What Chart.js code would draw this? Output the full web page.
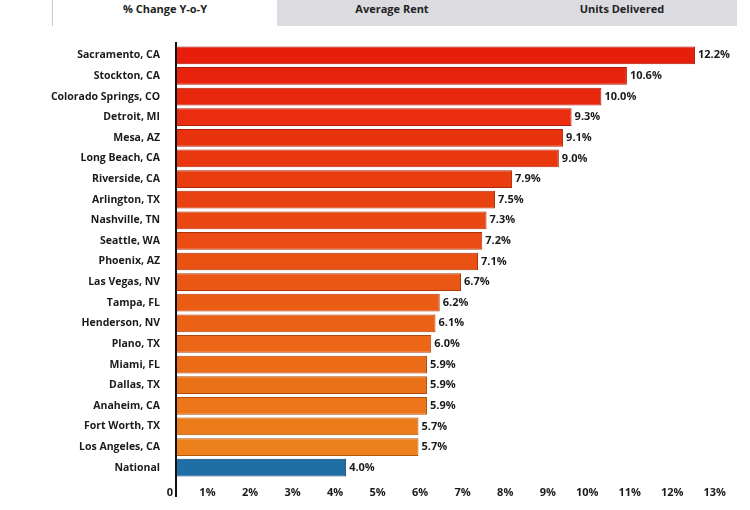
<!DOCTYPE html>
<html>
<head>
<meta charset="utf-8">
<script src="https://cdn.jsdelivr.net/npm/chart.js@4"></script>
<style>
  body { margin: 0; background: #fff; font-family: 'Open Sans', sans-serif; }
  #wrap { position: relative; width: 750px; height: 510px; }
  #tabs { position: absolute; left: 52px; top: 0; width: 685px; height: 26px; display: flex; }
  .tab { height: 26px; line-height: 17px; text-align: center; font-size: 11px; font-weight: 700; color: #222; }
  .tab.on { width: 224px; background: #fff; border-left: 1px solid #c8c8cc; }
  .tab.off { flex: 1; background: #dcdbe0; }
  #chart-box { position: absolute; left: 0; top: 0; width: 750px; height: 510px; }
</style>
</head>
<body>
<div id="wrap">
  <div id="chart-box"><canvas id="grafico-aluguel"></canvas></div>
  <div id="tabs">
    <div class="tab on">% Change Y-o-Y</div>
    <div class="tab off">Average Rent</div>
    <div class="tab off">Units Delivered</div>
  </div>
</div>
<script>
const cidades = ['Sacramento, CA', 'Stockton, CA', 'Colorado Springs, CO', 'Detroit, MI', 'Mesa, AZ',
  'Long Beach, CA', 'Riverside, CA', 'Arlington, TX', 'Nashville, TN', 'Seattle, WA', 'Phoenix, AZ',
  'Las Vegas, NV', 'Tampa, FL', 'Henderson, NV', 'Plano, TX', 'Miami, FL', 'Dallas, TX',
  'Anaheim, CA', 'Fort Worth, TX', 'Los Angeles, CA', 'National'];
const variacao = [12.2, 10.6, 10.0, 9.3, 9.1, 9.0, 7.9, 7.5, 7.3, 7.2, 7.1, 6.7, 6.2, 6.1, 6.0, 5.9, 5.9, 5.9, 5.7, 5.7, 4.0];
const rotulosX = ['0', '1%', '2%', '3%', '4%', '5%', '6%', '7%', '8%', '9%', '10%', '11%', '12%', '13%'];

// cores: vermelho no topo indo para laranja, National em azul
function mistura(a, b, t) {
  return 'rgb(' + a.map((v, i) => Math.round(v + (b[i] - v) * t)).join(',') + ')';
}
const n = cidades.length - 1;
const corFundo = cidades.map((c, i) => c === 'National' ? '#1f6fa6' : mistura([232, 30, 12], [236, 128, 26], i / (n - 1)));
const corBorda = cidades.map((c, i) => c === 'National' ? '#0d3f63' : mistura([170, 20, 8], [180, 85, 12], i / (n - 1)));

// rótulo de valor na ponta da barra + linha do eixo
const rotulosBarras = {
  id: 'rotulosBarras',
  afterDatasetsDraw(chart) {
    const ctx = chart.ctx;
    const meta = chart.getDatasetMeta(0);
    ctx.save();
    ctx.font = 'bold 11px "Open Sans"';
    ctx.fillStyle = '#1a1a1a';
    ctx.textBaseline = 'middle';
    meta.data.forEach((bar, i) => {
      ctx.fillText(variacao[i].toFixed(1) + '%', bar.x + 3, bar.y);
    });
    const x0 = chart.scales.x.getPixelForValue(0);
    ctx.strokeStyle = '#111';
    ctx.lineWidth = 2;
    ctx.beginPath();
    ctx.moveTo(x0, chart.chartArea.top - 3);
    ctx.lineTo(x0, chart.chartArea.bottom + 19);
    ctx.stroke();
    ctx.restore();
  }
};

new Chart(document.getElementById('grafico-aluguel'), {
  type: 'bar',
  data: {
    labels: cidades,
    datasets: [{
      data: variacao,
      backgroundColor: corFundo,
      borderColor: corBorda,
      borderWidth: 1,
      categoryPercentage: 1,
      barPercentage: 0.86
    }]
  },
  options: {
    indexAxis: 'y',
    responsive: true,
    maintainAspectRatio: false,
    animation: false,
    layout: { padding: { top: 45, right: 21, bottom: 0, left: 0 } },
    plugins: {
      legend: { display: false },
      tooltip: { enabled: false }
    },
    scales: {
      x: {
        min: 0,
        max: 13,
        grid: { display: false },
        border: { display: false },
        afterFit(scale) { scale.height = 32; },
        ticks: {
          stepSize: 1,
          align: 'end',
          padding: 0,
          labelOffset: -3,
          color: '#1a1a1a',
          font: { family: 'Open Sans', size: 11, weight: 'bold' },
          callback: (v) => rotulosX[v]
        }
      },
      y: {
        grid: { display: false },
        border: { display: false },
        afterFit(scale) { scale.width = 176; },
        ticks: {
          padding: 8,
          color: '#1a1a1a',
          font: { family: 'Open Sans', size: 10.5, weight: 'bold' }
        }
      }
    }
  },
  plugins: [rotulosBarras]
});
</script>
</body>
</html>
